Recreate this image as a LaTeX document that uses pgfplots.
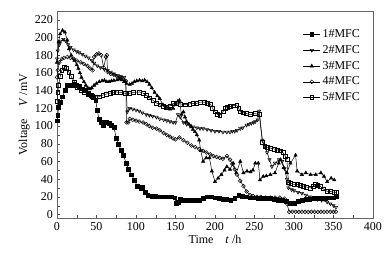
\documentclass[border=0pt]{standalone}
\usepackage{pgfplots}
\pgfplotsset{compat=1.18}
\usepackage{fontspec}
\setmainfont{Liberation Serif}
\usetikzlibrary{calc}
\begin{document}
\fontsize{12}{14}\selectfont
\begin{tikzpicture}
\begin{axis}[
  scale only axis, width=316pt, height=207pt,
  xmin=0, xmax=400, ymin=-4, ymax=230,
  xtick={0,50,...,400}, ytick={0,20,...,220},
  minor x tick num=1, minor y tick num=1,
  tick align=inside, xtick pos=bottom, ytick pos=left,
  major tick length=3pt, minor tick length=3pt,
  axis line style={draw=black!60},
  tick style={black!70},
  /pgf/number format/assume math mode=true,
  ticklabel style={font=\fontsize{12}{14}\selectfont},
  xlabel={Time\quad\textit{t} /h},
  ylabel={Voltage\quad\textit{V} /mV},
  label style={font=\fontsize{12}{14}\selectfont},
  xlabel style={yshift=3pt},
  ylabel style={yshift=-3pt},
  legend style={draw=none, fill=none, at={(0.975,0.93)}, anchor=north east, font=\fontsize{12}{14}\selectfont, row sep=2pt},
  legend cell align=left,
  every axis plot/.append style={black, line width=0.5pt, mark size=1.9pt},
]
% 1#MFC
\addplot[mark=square*, mark options={solid, fill=black}] coordinates {
(0,106)(1,112)(2,121)(4,127)(7,133)(10,140)(13,146)(16,146)(19,146)(22,147)(25,146)(28,145)(32,142)(36,140)(40,137)(43,135)(46,132)(49,129)(51,118)(53,108)(56,104)(59,101)(62,104)(66,103)(69,101)(72,99)(75,86)(78,79)(81,73)(84,67)(87.5,58)(90.5,51)(94,45)(98,39)(101.5,32)(106,29)(108,31)(111.7,25)(115,22)(120,21)(125,21)(130,20)(135,20)(140,20)(145,20)(149,19)(151,13)(153,14)(156,17)(160,16)(165,16)(170,16)(175,16)(180,16)(185,18)(190,20)(195,20)(200,19)(205,18)(210,17)(215,17)(220,16)(225,18)(230,22)(235,21)(240,20)(245,19)(250,19)(255,18)(260,18)(265,18)(270,18)(275,17)(280,16)(285,16)(290,15)(295,13)(300,13)(305,15)(310,16)(315,17)(320,17)(325,18)(330,18)(335,18)(340,18)(345,19)(350,19)(353,20)
};
\addlegendentry{1\#MFC}
% 2#MFC
\addplot[mark=triangle, mark options={solid, fill=white, rotate=180}] coordinates {
(0,176)(1,185)(3,192)(5,196)(8,198)(11,196)(14,192)(17,189)(21,186)(25,184)(28,183)(32,181)(36,179)(40,177)(44,174)(47,171)(51,168)(55,166)(60,164)(64,163)(68,161)(72,159)(77,157)(81,156)(85,155)(87,150)(89,116)(92,120)(96,119)(100,118)(104,117)(108,115)(113,113)(117,112)(121,111)(126,110)(130,108)(135,107)(139,106)(143,105)(147,104)(150,104)(153,113)(156,110)(160,104)(164,102)(168,101)(172,99)(177,98)(181,97)(185,97)(190,96)(195,95)(200,94)(205,94)(210,93)(215,93)(219,93)(222,94)(225,94)(228,95)(232,97)(235,98)(240,101)(243,102)(246,103)(249,104)(251,105)(254,107)(256,117)(260,84)(263,77)(266,70)(269,62)(272,54)(276,58)(281,62)(285,60)(288,52)(291,40)(293,30)(297,28)(300,27)(305,25)(310,24)(315,22)(320,20)(325,19)(330,17)(335,16)(342,14)(346,12)(350,10)(353,8)
};
\addlegendentry{2\#MFC}
% 3#MFC
\addplot[mark=triangle*, mark options={solid, fill=black}] coordinates {
(0,172)(2,195)(4,204)(7,208)(10,206)(13,197)(15,187)(18,180)(22,174)(25,169)(27,165)(29,160)(31,155)(34,150)(36.5,146)(39,143)(41.6,142)(44,143)(47,146)(50,148)(53.5,150)(57,151)(60,151.5)(63,150)(66,150)(69,151)(72,151.5)(76,152)(79,153)(82,152)(85,150)(88,148)(92,147)(95,148)(98,150)(101,151)(104.5,151.7)(108,151)(111,151.7)(114,150)(117,147)(120,143)(123.6,138)(127,134)(130,131)(134,124)(138.5,121)(143,119)(147,120)(150,125)(153,128)(155,129)(157.5,113)(160,116)(162,110)(164,105)(167,102)(170,99)(172,96)(174.5,93.6)(177,90)(180,84)(182,72)(185,60)(189,64)(193,64)(196,49)(200,37)(204,41)(208,45)(212,50)(215,54)(219,51)(223,58)(227,47)(232,60)(236,47)(240.5,49)(245,48)(248,50)(251,58)(254.8,58)(257,39)(261,43)(265,43.6)(270,45)(276,47)(280.6,58)(283,62)(287,53)(291,47)(295.5,58)(302,67)(304,49)(310,45)(315,47)(321,45)(327.5,45)(334,47)(338,43)(342,37)(347,41)(351,39)
};
\addlegendentry{3\#MFC}
% 4#MFC
\addplot[mark=o, mark options={solid, fill=white}] coordinates {
(0,155)(1,163)(3,172)(6,176)(9,177)(13,178)(17,177)(21,176)(25,174)(30,172)(34,170)(38.6,168)(42,165)(45,163)(47,178)(50,181)(53,182)(56,180)(59,166)(62,178)(63,180)(64,161)(68,159)(72,158)(76,156)(80,155)(84,153)(87,151)(88,104)(90,104)(92,108)(96,107)(100,106)(104,105)(109,104)(113,102)(117,100)(121,98)(126,97)(130,95)(135,92)(139,90)(143,88)(147,86)(150,85)(155,87)(160,84)(165,81)(170,78)(175,76)(180,74)(185,72)(189,70)(194,68)(198,66)(202,65)(206,64)(210,63)(215,66)(219,62)(222,57)(225,51)(228,45)(232,38)(236,32)(240,26)(244,22)(248,21)(253,20)(258,20)(264,19)(270,19)(276,19)(282,19)(288,18)(291,12)(294,3)(298,3)(302,3)(306,3)(310,3)(314,3)(318,3)(322,3)(326,3)(330,3)(334,3)(338,3)(342,3)(346,3)(350,3)(353,3)
};
\addlegendentry{4\#MFC}
% 5#MFC
\addplot[mark=square, mark options={solid, fill=white}] coordinates {
(0,128)(1,138)(2,146)(4,156)(6,163)(9,166)(12,165)(15,161)(18,156)(22,150)(26,144)(30,140)(35,138)(40,136)(45,134)(49,133)(53,133)(58,135)(62,136)(67,137)(71,138)(75,138.5)(80,138)(86,137)(92,137)(97,138)(104.5,138.5)(109,137)(113,135)(117,132)(121.5,129)(126,126)(130,124)(134,122.5)(138.5,121)(143,123)(147,125.5)(151,126)(156,125)(162,124)(168,125)(172,125.5)(176.7,125.5)(181,127)(186,127)(190,126)(194,125)(197,120)(200,116)(203,113)(206,112)(210,116)(213,120)(216,121)(219,122)(223,123)(227.6,123.6)(230,120)(232,116)(236,115)(240,114)(245,113)(251,114)(256,113)(260,82)(263,77)(266,76)(270,75)(275,74)(279,73)(283,72)(286,70)(289,66)(291,62)(293,36)(296,35)(300,34)(304,34)(308,33)(312,32)(316,31)(321,30)(324,32)(327,34)(330,33)(333,32)(337,29)(342,26)(346,26)(351,25)(353,25)
};
\addlegendentry{5\#MFC}
\end{axis}
\path[use as bounding box] ($(current axis.south west)+(-57pt,-42pt)$) rectangle ($(current axis.north east)+(18pt,11pt)$);
\end{tikzpicture}
\end{document}
